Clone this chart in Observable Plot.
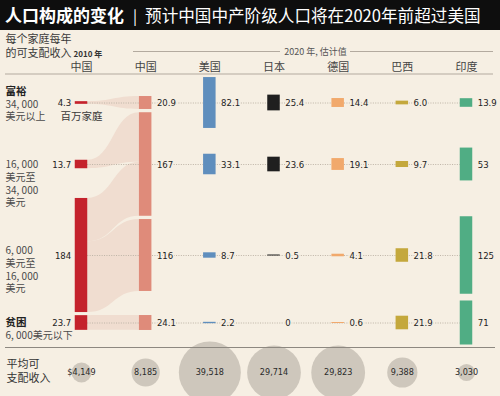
<!DOCTYPE html>
<html><head><meta charset="utf-8">
<script src="https://cdn.jsdelivr.net/npm/d3@7"></script>
<script src="https://cdn.jsdelivr.net/npm/@observablehq/plot@0.6"></script>
<style>
html,body{margin:0;padding:0;background:#f6efe3;}
#wrap{width:500px;height:396px;overflow:hidden;position:relative;background:#f6efe3;}
#title{height:30px;background:#0e0e0e;color:#fff;font-family:"Noto Sans CJK SC",sans-serif;line-height:29px;padding-left:5px;white-space:nowrap;}
#title .t{font-weight:700;font-size:17px;}
#title .sep{font-size:15px;margin:0 8px 0 9px;}
#title .s{font-size:16.6px;}
#chart svg{display:block;}
</style></head><body>
<div id="wrap"><div id="title"><span class="t">人口构成的变化</span><span class="sep">|</span><span class="s">预计中国中产阶级人口将在2020年前超过美国</span></div><div id="chart"></div></div>
<script>
// ---- data ----
const columns = ["中国", "中国", "美国", "日本", "德国", "巴西", "印度"];
const rowHeads = ["富裕", null, null, "贫困"];
const rowLabels = [["34, 000", "美元以上"], ["16, 000", "美元至", "34, 000", "美元"], ["6, 000", "美元至", "16, 000", "美元"], ["6, 000美元以下"]];
const china2010 = [4.3, 13.7, 184, 23.7];
const china2020 = [20.9, 167, 116, 24.1];
const usa2020 = [82.1, 33.1, 8.7, 2.2];
const japan2020 = [25.4, 23.6, 0.5, 0];
const germany2020 = [14.4, 19.1, 4.1, 0.6];
const brazil2020 = [6.0, 9.7, 21.8, 21.9];
const india2020 = [13.9, 53, 125, 71];
const incomes = [4149, 8185, 39518, 29714, 29823, 9388, 3030];
// China flows 2010 -> 2020 (from row, to row, out of 2010 bar, into 2020 bar), millions
const flows = [[0, 0, 4.3, 20.9], [1, 1, 13.7, 80], [2, 1, 70, 87], [2, 2, 114, 116], [3, 3, 23.7, 24.1]];

// ---- styles / layout ----
const colors = ["#c4222c", "#df8b7a", "#5f8ebd", "#1f1f1f", "#f1a96c", "#c4a83c", "#50ad84"];
const BG = "#f6efe3", FLOW = "#f0ddd0", INK = "#3a3a3a";
const NUMF = "'Liberation Sans Narrow','DejaVu Sans Condensed',sans-serif";
const CJK = "'Noto Sans CJK SC',sans-serif";
const TOP = 30, W = 500, H = 396 - TOP;
const PX = 0.62;                  // px per million households
const COL0 = 81, COL6 = 466, STEP = (COL6 - COL0) / 6;
const X = p => (p - COL0) / STEP;
const Y = p => (p - TOP) / PX;
const HW = 6.25 / STEP;
const MINV = 1.6;
const rowY = [102.5, 164, 255, 322.5].map(Y);
const LH = 12.6;

const series = [china2010, china2020, usa2020, japan2020, germany2020, brazil2020, india2020];
const bars = series.flatMap((vals, c) => vals.map((v, r) => ({c, r, v, cy: rowY[r]})));
const fmt = v => v === 0 ? "0" : (Number.isInteger(v) && v >= 50 ? String(v) : v.toFixed(1));

// flows geometry
const outOff = [0, 0, 0, 0], inOff = [0, 0, 0, 0];
const flowPts = flows.flatMap(([a, b, o, i], id) => {
  const t0 = rowY[a] - china2010[a] / 2 + outOff[a];
  const t1 = rowY[b] - china2020[b] / 2 + inOff[b];
  outOff[a] += o; inOff[b] += i;
  return [{id, x: HW, y1: t0, y2: t0 + o}, {id, x: 1 - HW, y1: t1, y2: t1 + i}];
});

const note = (text, xp, yp, o = {}) => Plot.text([text], {
  x: X(xp), y: Y(yp), text: d => d, fontFamily: CJK, fontSize: 10, fill: INK, textAnchor: "start", ...o
});

// row label blocks: first-line centre (px)
const rowFirst = [90.7, 164, 250, 321.7];
const rowNotes = rowLabels.flatMap((lines, r) => {
  const head = rowHeads[r];
  const y0 = rowFirst[r] + (head ? LH : 0);
  const out = [Plot.text([lines.join("\n")], {x: X(5), y: Y(y0 - 5), text: d => d, lineAnchor: "top", lineHeight: LH / 10,
    fontFamily: CJK, fontSize: 10, fill: "#4a4a4a", textAnchor: "start"})];
  if (head) out.push(note(head, 5, rowFirst[r], {fontSize: 10.5, fontWeight: 700, fill: "#222"}));
  return out;
});

const chart = Plot.plot({
  width: W, height: H,
  margin: 0,
  style: {background: BG, overflow: "hidden"},
  x: {type: "linear", domain: [0, 6], range: [COL0, COL6], axis: null},
  y: {type: "linear", domain: [0, H / PX], range: [0, H], axis: null},
  r: {type: "sqrt", domain: [0, 39518], range: [0, 31]},
  color: {type: "identity"},
  marks: [
    // flows
    Plot.area(flowPts, {x1: "x", y1: "y1", y2: "y2", z: "id", fill: FLOW, curve: "bump-x"}),
    // dotted row guides
    Plot.ruleY(rowY, {x1: HW, x2: 6 - HW, stroke: "#bdb3a6", strokeDasharray: "1,1.4", strokeWidth: 1}),
    // header lines
    Plot.ruleY([Y(51)], {x1: X(133), x2: X(280), stroke: "#b3aa9f"}),
    Plot.ruleY([Y(51)], {x1: X(350), x2: X(493), stroke: "#b3aa9f"}),
    Plot.ruleY([Y(73.5)], {x1: X(5), x2: X(493), stroke: "#b3aa9f"}),
    // bars
    Plot.rect(bars.filter(d => d.v > 0), {
      x1: d => d.c - HW, x2: d => d.c + HW,
      y1: d => d.cy - Math.max(d.v, MINV) / 2, y2: d => d.cy + Math.max(d.v, MINV) / 2,
      fill: d => colors[d.c]
    }),
    // value labels
    Plot.text(bars.filter(d => d.c === 0), {x: d => d.c - HW, y: "cy", dx: -4, text: d => fmt(d.v), textAnchor: "end",
      fontFamily: NUMF, fontSize: 9.5, fill: "#222", stroke: BG, strokeWidth: 3, paintOrder: "stroke"}),
    Plot.text(bars.filter(d => d.c > 0), {x: d => d.c + HW, y: "cy", dx: 5, text: d => fmt(d.v), textAnchor: "start",
      fontFamily: NUMF, fontSize: 9.5, fill: "#222", stroke: BG, strokeWidth: 3, paintOrder: "stroke"}),
    // column headers
    Plot.text(columns, {x: (d, i) => i, y: Y(67), text: d => d, fontFamily: CJK, fontSize: 11, fill: "#444"}),
    note("每个家庭每年", 5, 39, {fontSize: 11}),
    note("的可支配收入", 5, 53, {fontSize: 11}),
    note("2010 年", 73, 54, {fontSize: 8, fontWeight: 700, fill: "#333"}),
    note("2020 年, 估计值", 315, 51.5, {fontSize: 9, fill: "#555", textAnchor: "middle"}),
    note("百万家庭", 60, 116.5, {fontSize: 10.5}),
    ...rowNotes,
    // income circles
    Plot.dot(incomes, {x: (d, i) => i, y: Y(372), r: d => d, fill: "#cec7bc", stroke: "none"}),
    Plot.ruleY([Y(347)], {x1: X(5), x2: X(495), stroke: "#8d8880", strokeWidth: 1}),
    Plot.text(incomes, {x: (d, i) => i, y: Y(372), text: (d, i) => (i === 0 ? "$" : "") + d3.format(",")(d),
      fontFamily: NUMF, fontSize: 9, fill: "#2a2a2a"}),
    Plot.text(["平均可\n支配收入"], {x: X(6), y: Y(370), text: d => d, lineHeight: 1.27,
      fontFamily: CJK, fontSize: 11, fill: "#333", textAnchor: "start"})
  ]
});
document.getElementById("chart").appendChild(chart);
</script>
</body></html>
